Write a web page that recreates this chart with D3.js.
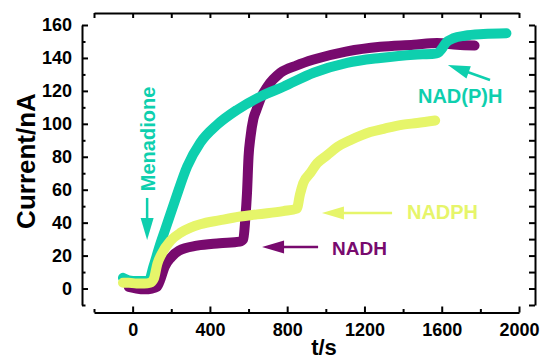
<!DOCTYPE html>
<html>
<head>
<meta charset="utf-8">
<script src="https://cdn.jsdelivr.net/npm/d3@7"></script>
<style>
  body { margin: 0; background: #fff; }
  svg { display: block; font-family: "Liberation Sans", Arial, sans-serif; font-weight: bold; }
</style>
</head>
<body>
<svg id="chart" width="544" height="361"></svg>
<script>
// traces: time in s, current in nA
const tNADH = [-20, 20, 60, 100, 125, 145, 165, 200, 240, 333, 450, 555, 573, 583, 592, 600, 610, 625, 641, 665, 697, 765, 850, 937, 1110, 1282, 1455, 1576, 1680, 1770];
const iNADH = [1, 0, -0.5, 0, 1, 6, 13, 19, 23, 26, 27.5, 28.5, 30, 42, 58, 80, 92, 103, 108.5, 116, 122.5, 131, 135.5, 139, 144, 146.8, 148, 149, 148, 147.5];

const tNADPH = [-50, -20, 20, 60, 90, 110, 128, 150, 196, 250, 300, 350, 454, 520, 645, 780, 850, 866, 883, 919, 955, 1007, 1060, 1126, 1230, 1300, 1400, 1473, 1566];
const iNADPH = [3.5, 3.5, 3, 3, 3.5, 6, 15, 21, 29, 34, 37, 39, 41.5, 43, 45, 47, 48.5, 57, 64, 70, 76, 81, 86, 90, 95, 97, 99.5, 100.5, 102];

const tMix = [-50, -20, 20, 60, 85, 108, 143, 169, 221, 282, 350, 438, 541, 661, 780, 937, 1110, 1282, 1455, 1560, 1580, 1600, 1620, 1662, 1720, 1816, 1935];
const iMix = [6.5, 5, 4.5, 4.5, 5, 13.5, 27, 36, 54, 74, 88.5, 99.5, 108.5, 116.5, 122.5, 131, 137, 140, 142, 142.5, 143, 145.5, 149, 152, 153.5, 154.5, 155];

const xTicks = [0, 400, 800, 1200, 1600, 2000];
const xMinor = [-200, 200, 600, 1000, 1400, 1800];
const yTicks = [0, 20, 40, 60, 80, 100, 120, 140, 160];
const yMinor = [-10, 10, 30, 50, 70, 90, 110, 130, 150];

// annotations, in data units
const labelNames = ["NADH", "NADPH", "NAD(P)H"];
const labelAt = [[1032, 20.3], [1420, 42.2], [1477, 112.6]];
const arrowFrom = [[960, 25.2], [1343, 45.8], [1850, 126.6]];
const arrowTo = [[670, 25.2], [980, 45.8], [1632, 135.7]];

const purple = "#780a6e";
const yellow = "#e6f56a";
const teal = "#0ecfae";

function drawCurrent(){
  const svg = d3.select("#chart");

  const x = d3.scaleLinear().domain([-200, 2000]).range([94, 519]);
  const y = d3.scaleLinear().domain([-10, 160]).range([305, 25]);
  const fmt = d3.format("d");

  function styleAxis(g){
    g.attr("font-family", null).attr("font-size", null);
    g.selectAll("path, line").attr("stroke", "#000").attr("stroke-width", 2);
    g.selectAll("text").attr("fill", "#000").style("font-size", "18px");
  }

  // left axis
  svg.append("g")
      .attr("transform", "translate(82,0)")
      .call(d3.axisLeft(y).tickValues(yTicks).tickFormat(fmt).tickSize(-6).tickSizeOuter(0).tickPadding(10))
      .call(styleAxis);
  svg.append("g")
      .attr("transform", "translate(82,0)")
      .call(d3.axisLeft(y).tickValues(yMinor).tickSize(-3.5).tickFormat(""))
      .call(styleAxis)
      .select(".domain").remove();

  // right axis
  svg.append("g")
      .attr("transform", "translate(535,0)")
      .call(d3.axisRight(y).tickValues(yTicks.concat(yMinor)).tickSize(-6).tickSizeOuter(0).tickFormat(""))
      .call(styleAxis);

  // bottom axis
  svg.append("g")
      .attr("transform", "translate(0,312.5)")
      .call(d3.axisBottom(x).tickValues(xTicks).tickFormat(fmt).tickSize(-6).tickSizeOuter(0).tickPadding(10.5))
      .call(styleAxis);
  svg.append("g")
      .attr("transform", "translate(0,312.5)")
      .call(d3.axisBottom(x).tickValues(xMinor).tickSize(-3.5).tickFormat(""))
      .call(styleAxis)
      .select(".domain").remove();

  // top axis
  svg.append("g")
      .attr("transform", "translate(0,13)")
      .call(d3.axisTop(x).tickValues(xTicks.concat(xMinor)).tickSize(-5).tickSizeOuter(0).tickFormat(""))
      .call(styleAxis);

  // axis titles
  svg.append("text")
      .text("Current/nA")
      .attr("transform", "translate(35,161) rotate(-90)")
      .style("text-anchor", "middle")
      .style("font-size", "26px");

  svg.append("text")
      .text("t/s")
      .attr("x", 324)
      .attr("y", 355)
      .style("text-anchor", "middle")
      .style("font-size", "22px");

  // traces
  const line = d3.line()
      .x(d => x(d[0]))
      .y(d => y(d[1]))
      .curve(d3.curveMonotoneX);

  const traces = [
    [d3.zip(tNADH, iNADH), purple],
    [d3.zip(tMix, iMix), teal],
    [d3.zip(tNADPH, iNADPH), yellow]
  ];

  svg.selectAll("path.trace")
    .data(traces)
    .enter()
    .append("path")
      .attr("class", "trace")
      .attr("d", d => line(d[0]))
      .attr("fill", "none")
      .attr("stroke", d => d[1])
      .attr("stroke-width", 10)
      .attr("stroke-linecap", "round")
      .attr("stroke-linejoin", "round");

  // arrow with a filled head, endpoints in pixels
  function arrow(x1, y1, x2, y2, color){
    const len = Math.hypot(x2 - x1, y2 - y1);
    const ux = (x2 - x1) / len, uy = (y2 - y1) / len;
    const head = 22, half = 6.5;
    const bx = x2 - ux * head, by = y2 - uy * head;
    svg.append("line")
      .attr("x1", x1).attr("y1", y1)
      .attr("x2", bx + ux * 2).attr("y2", by + uy * 2)
      .attr("stroke", color)
      .attr("stroke-width", 2.5);
    svg.append("polygon")
      .attr("points", [[x2, y2], [bx - uy * half, by + ux * half], [bx + uy * half, by - ux * half]].join(" "))
      .attr("fill", color);
  }

  const labelColors = [purple, yellow, teal];
  labelNames.forEach((name, i) => {
    svg.append("text")
      .text(name)
      .attr("x", x(labelAt[i][0]))
      .attr("y", y(labelAt[i][1]))
      .attr("fill", labelColors[i])
      .style("font-size", i == 0 ? "19px" : "20px");
    arrow(x(arrowFrom[i][0]), y(arrowFrom[i][1]), x(arrowTo[i][0]), y(arrowTo[i][1]), labelColors[i]);
  });

  // menadione addition
  svg.append("text")
    .text("Menadione")
    .attr("transform", `translate(${x(116)},${y(90.8)}) rotate(-90)`)
    .attr("fill", teal)
    .style("text-anchor", "middle")
    .style("font-size", "20px");
  arrow(x(75), y(55), x(75), y(29.4), teal);
}

drawCurrent();
</script>
</body>
</html>
